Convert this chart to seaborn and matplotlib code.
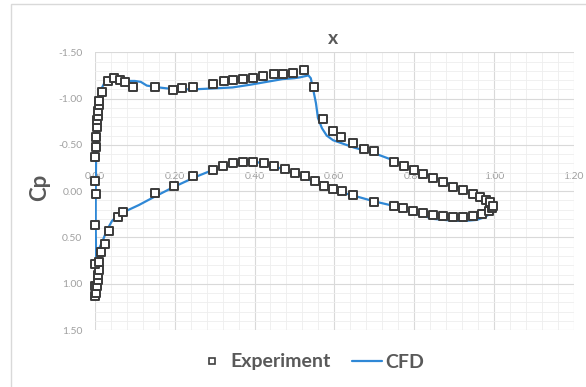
import numpy as np
import pandas as pd
import matplotlib
matplotlib.use('Agg')
import matplotlib.pyplot as plt
from matplotlib.lines import Line2D
from matplotlib.patches import Rectangle
from matplotlib.ticker import MultipleLocator, FormatStrFormatter
import seaborn as sns

# Experimental pressure coefficient (x/c, Cp)
exp_x = [0.000, 0.002, 0.000, 0.005, 0.007, 0.008, 0.010, 0.000, 0.010, 0.015,
         0.025, 0.035, 0.058, 0.070, 0.150, 0.198, 0.245, 0.296, 0.322, 0.346,
         0.371, 0.396, 0.424, 0.449, 0.476, 0.501, 0.526, 0.551, 0.574, 0.597,
         0.620, 0.647, 0.700, 0.750, 0.772, 0.797, 0.823, 0.847, 0.872, 0.897,
         0.922, 0.947, 0.970, 0.988, 0.995,
         0.000, 0.003, 0.000, 0.000, 0.003, 0.003, 0.005, 0.005, 0.008, 0.008,
         0.010, 0.010, 0.018, 0.033, 0.048, 0.063, 0.075, 0.095, 0.150, 0.196,
         0.218, 0.246, 0.296, 0.323, 0.346, 0.371, 0.396, 0.421, 0.449, 0.471,
         0.496, 0.524, 0.549, 0.571, 0.596, 0.616, 0.647, 0.674, 0.699, 0.749,
         0.774, 0.800, 0.822, 0.847, 0.872, 0.897, 0.922, 0.947, 0.965, 0.980,
         0.990, 0.997]
exp_cp = [1.13, 1.10, 1.02, 1.02, 0.96, 0.90, 0.85, 0.79, 0.76, 0.66,
          0.57, 0.43, 0.28, 0.23, 0.02, -0.06, -0.16, -0.23, -0.27, -0.30,
          -0.32, -0.32, -0.30, -0.27, -0.24, -0.20, -0.16, -0.11, -0.06, -0.02,
          0.00, 0.04, 0.12, 0.16, 0.18, 0.21, 0.24, 0.26, 0.27, 0.28,
          0.28, 0.27, 0.25, 0.21, 0.18,
          0.36, 0.03, -0.11, -0.37, -0.48, -0.58, -0.69, -0.77, -0.81, -0.87,
          -0.93, -0.97, -1.07, -1.19, -1.22, -1.20, -1.18, -1.12, -1.12, -1.09,
          -1.11, -1.12, -1.16, -1.19, -1.20, -1.21, -1.22, -1.24, -1.26, -1.27,
          -1.28, -1.31, -1.13, -0.78, -0.65, -0.58, -0.52, -0.45, -0.43, -0.32,
          -0.27, -0.23, -0.19, -0.14, -0.10, -0.05, -0.01, 0.03, 0.06, 0.09,
          0.12, 0.16]

# CFD result, one closed path: upper surface TE -> LE, then lower surface LE -> TE
cfd_x = [0.998, 0.990, 0.980, 0.950, 0.900, 0.850, 0.800, 0.750, 0.700, 0.650,
         0.597, 0.581, 0.569, 0.559, 0.554, 0.546, 0.541, 0.535, 0.515, 0.500,
         0.470, 0.430, 0.390, 0.345, 0.300, 0.250, 0.200, 0.160, 0.130, 0.115,
         0.100, 0.080, 0.060, 0.040, 0.025, 0.018, 0.012, 0.008, 0.005, 0.003,
         0.002, 0.002, 0.003, 0.008, 0.018, 0.030, 0.043, 0.060, 0.080, 0.110,
         0.145, 0.195, 0.250, 0.296, 0.346, 0.380, 0.400, 0.450, 0.500, 0.550,
         0.600, 0.650, 0.700, 0.750, 0.800, 0.850, 0.900, 0.930, 0.957, 0.977,
         0.992, 0.998]
cfd_cp = [0.17, 0.13, 0.10, 0.03, -0.06, -0.15, -0.24, -0.33, -0.41, -0.47,
          -0.55, -0.60, -0.68, -0.79, -0.95, -1.12, -1.22, -1.25, -1.23, -1.22,
          -1.21, -1.18, -1.15, -1.12, -1.11, -1.10, -1.10, -1.12, -1.14, -1.18,
          -1.19, -1.19, -1.19, -1.20, -1.18, -1.12, -1.02, -0.90, -0.70, -0.40,
          0.00, 0.40, 0.72, 0.64, 0.55, 0.42, 0.32, 0.25, 0.21, 0.15,
          0.07, -0.04, -0.15, -0.23, -0.29, -0.32, -0.32, -0.27, -0.19, -0.10,
          -0.01, 0.05, 0.11, 0.16, 0.24, 0.30, 0.32, 0.32, 0.31, 0.28,
          0.24, 0.18]

exp_df = pd.DataFrame({'x': exp_x, 'Cp': exp_cp})
cfd_df = pd.DataFrame({'x': cfd_x, 'Cp': cfd_cp})

sns.set_style('white')
plt.rcParams['font.family'] = ['Lato', 'DejaVu Sans']
plt.rcParams['axes.unicode_minus'] = False

line_color = '#2f88d6'
text_color = '#595959'
tick_color = '#a0a0a0'

fig = plt.figure(figsize=(5.86, 3.87), dpi=100)
ax = fig.add_axes([0.162, 0.147, 0.817, 0.718])

sns.lineplot(data=cfd_df, x='x', y='Cp', sort=False, estimator=None,
             color=line_color, linewidth=1.6, ax=ax, zorder=3)
sns.scatterplot(data=exp_df, x='x', y='Cp', marker='s', s=28,
                facecolor='white', edgecolor='#3a3a3a', linewidth=1.4,
                ax=ax, zorder=4, clip_on=False)

ax.set_xlim(0, 1.2)
ax.set_ylim(1.5, -1.5)
ax.xaxis.set_major_locator(MultipleLocator(0.2))
ax.xaxis.set_minor_locator(MultipleLocator(0.04))
ax.yaxis.set_major_locator(MultipleLocator(0.5))
ax.yaxis.set_minor_locator(MultipleLocator(0.1))
ax.xaxis.set_major_formatter(FormatStrFormatter('%.2f'))
ax.yaxis.set_major_formatter(FormatStrFormatter('%.2f'))

# x tick labels sit on the Cp = 0 line
ax.xaxis.tick_top()
ax.spines['top'].set_position(('data', 0))
for s in ax.spines.values():
    s.set_visible(False)
ax.tick_params(axis='both', which='both', length=0, labelsize=7.5,
               labelcolor=tick_color)
ax.tick_params(axis='x', pad=7)
ax.tick_params(axis='y', pad=9)

ax.grid(which='major', color='#d9d9d9', linewidth=0.8)
ax.grid(which='minor', color='#eeeeee', linewidth=0.6)
ax.set_axisbelow(True)

ax.set_xlabel('')
ax.set_ylabel('')
fig.text(333 / 586, 1 - 38 / 387, 'x', ha='center', va='center',
         fontsize=14, fontweight='bold', color=text_color)
fig.text(40 / 586, 1 - 187 / 387, 'Cp', ha='center', va='center',
         rotation=90, fontsize=16, fontweight='bold', color=text_color)

handles = [Line2D([], [], linestyle='none', marker='s', markersize=5,
                  markerfacecolor='white', markeredgecolor='#404040',
                  markeredgewidth=1.2),
           Line2D([], [], color=line_color, linewidth=1.6)]
fig.legend(handles, ['Experiment', 'CFD'], loc='center',
           bbox_to_anchor=(311 / 586, 1 - 362 / 387), ncol=2, frameon=False,
           prop={'size': 14, 'weight': 'bold'}, labelcolor=text_color,
           handlelength=1.5, handletextpad=0.2, columnspacing=1.1)

fig.patches.append(Rectangle((11 / 586, -0.01), 1.0, 1 - 4 / 387 + 0.01,
                             transform=fig.transFigure, fill=False,
                             edgecolor='#d9d9d9', linewidth=1))

fig.savefig('out.png', dpi=100)
